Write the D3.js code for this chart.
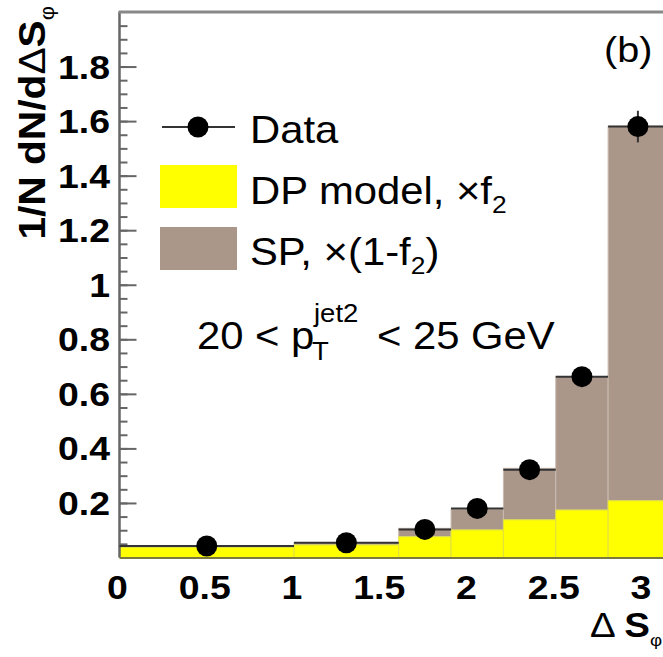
<!DOCTYPE html>
<html>
<head>
<meta charset="utf-8">
<script src="https://cdn.jsdelivr.net/npm/d3@7"></script>
<style>
  html, body { margin: 0; padding: 0; background: #fff; }
  svg { display: block; font-family: "Liberation Sans", Arial, Helvetica, sans-serif; }
</style>
</head>
<body>
<svg id="chart" width="663" height="657"></svg>
<script>
    // bin edges in ΔS_φ (last bin ends at π)
    const binEdges = [0, 1, 1.6, 1.9, 2.2, 2.5, 2.8, Math.PI];
    // stacked model: DP (yellow, ×f2) at the bottom, SP (brown, ×(1-f2)) on top
    const dpValues = [0.037, 0.046, 0.076, 0.101, 0.138, 0.174, 0.208];
    const spValues = [0.005, 0.008, 0.031, 0.076, 0.189, 0.489, 1.373];
    // data points at bin centres
    const dataValues = [0.042, 0.054, 0.103, 0.180, 0.322, 0.663, 1.580];
    const dataErrors = [0.004, 0.004, 0.006, 0.010, 0.015, 0.025, 0.058];
    const xTicks = [0, 0.5, 1, 1.5, 2, 2.5, 3];
    const yTicks = [0.2, 0.4, 0.6, 0.8, 1, 1.2, 1.4, 1.6, 1.8];

    const YELLOW = '#ffff00';
    const BROWN = '#ab978a';
    const AXIS = '#666';
    const WIDE = 1.1;   // the original font runs wider than Helvetica

    const svg = d3.select('#chart');

    const x = d3.scaleLinear().domain([0, Math.PI]).range([119.5, 119.5 + Math.PI * 174.5]);
    const y = d3.scaleLinear().domain([0, 2]).range([557.5, 12]);

    // text placed at (tx,ty), stretched along its own direction
    function label(parent, tx, ty, size, rot = 0) {
      return parent.append('text')
        .attr('transform', `translate(${tx},${ty}) rotate(${rot}) scale(${WIDE},1)`)
        .attr('font-size', size);
    }

    const bins = dpValues.map((dp, i) => ({
      x0: binEdges[i], x1: binEdges[i + 1],
      dp, sp: spValues[i],
      data: dataValues[i], err: dataErrors[i]
    }));

    // x tick marks (drawn first, the histogram covers them like in ROOT)
    svg.append('g')
      .attr('transform', `translate(0,${y(0)})`)
      .call(d3.axisBottom(x).tickValues(d3.range(0, 3.15, 0.1)).tickSize(-8).tickFormat(''))
      .call(g => g.select('.domain').remove())
      .selectAll('line').attr('stroke', AXIS);

    // SP on top of DP
    svg.append('g').selectAll('rect').data(bins).join('rect')
      .attr('x', d => x(d.x0))
      .attr('width', d => x(d.x1) - x(d.x0))
      .attr('y', d => y(d.dp + d.sp))
      .attr('height', d => y(d.dp) - y(d.dp + d.sp))
      .attr('fill', BROWN)
      .attr('stroke', '#c9bbb1')
      .attr('stroke-width', 1);

    svg.append('g').selectAll('rect').data(bins).join('rect')
      .attr('x', d => x(d.x0))
      .attr('width', d => x(d.x1) - x(d.x0))
      .attr('y', d => y(d.dp))
      .attr('height', d => y(0) - y(d.dp))
      .attr('fill', YELLOW)
      .attr('stroke', '#e0e040')
      .attr('stroke-width', 1);

    // frame: left axis, bottom axis, top line
    const yAxis = svg.append('g')
      .attr('transform', `translate(${x(0)},0)`);
    yAxis.append('g')
      .call(d3.axisRight(y).tickValues(d3.range(0.05, 2, 0.05)).tickSize(8).tickFormat(''))
      .call(g => g.select('.domain').remove())
      .selectAll('line').attr('stroke', AXIS).attr('stroke-width', 2);
    yAxis.append('g')
      .call(d3.axisRight(y).tickValues(yTicks).tickSize(17).tickFormat(''))
      .call(g => g.select('.domain').remove())
      .selectAll('line').attr('stroke', AXIS).attr('stroke-width', 2);

    svg.append('line')
      .attr('x1', x(0)).attr('x2', x(0))
      .attr('y1', y(0)).attr('y2', y(2))
      .attr('stroke', AXIS).attr('stroke-width', 2.5);
    svg.append('line')
      .attr('x1', x(0) - 1).attr('x2', 663)
      .attr('y1', y(2)).attr('y2', y(2))
      .attr('stroke', '#888').attr('stroke-width', 3);
    svg.append('line')
      .attr('x1', x(0)).attr('x2', 663)
      .attr('y1', y(0) + 0.5).attr('y2', y(0) + 0.5)
      .attr('stroke', '#7a7a40').attr('stroke-width', 2);

    // tick labels
    const fmt = d3.format('~g');
    yTicks.forEach(t => {
      label(svg, 110, y(t) + 12, 34)
        .attr('text-anchor', 'end')
        .attr('font-weight', 'bold')
        .text(fmt(t));
    });
    xTicks.forEach(t => {
      label(svg, x(t) - 2, 599, 34)
        .attr('text-anchor', 'middle')
        .attr('font-weight', 'bold')
        .text(fmt(t));
    });

    // data: horizontal bars over the bin, vertical error bars, markers
    const dataG = svg.append('g');
    dataG.selectAll('line.xerr').data(bins).join('line')
      .attr('class', 'xerr')
      .attr('x1', d => x(d.x0)).attr('x2', d => x(d.x1))
      .attr('y1', d => y(d.data)).attr('y2', d => y(d.data))
      .attr('stroke', '#333').attr('stroke-width', 2);
    dataG.selectAll('line.yerr').data(bins).join('line')
      .attr('class', 'yerr')
      .attr('x1', d => x((d.x0 + d.x1) / 2)).attr('x2', d => x((d.x0 + d.x1) / 2))
      .attr('y1', d => y(d.data - d.err)).attr('y2', d => y(d.data + d.err))
      .attr('stroke', '#333').attr('stroke-width', 2);
    dataG.selectAll('circle').data(bins).join('circle')
      .attr('cx', d => x((d.x0 + d.x1) / 2))
      .attr('cy', d => y(d.data))
      .attr('r', 10.5)
      .attr('fill', '#000');

    // axis titles
    const yTitle = label(svg, 45, 6, 37, -90)
      .attr('text-anchor', 'end')
      .attr('font-weight', 'bold');
    yTitle.append('tspan').text('1/N dN/d');
    yTitle.append('tspan').attr('font-weight', 'normal').text('Δ');
    yTitle.append('tspan').text('S');
    yTitle.append('tspan').attr('font-size', 20).attr('dy', 9).attr('font-weight', 'normal').text('φ');

    const xTitle = label(svg, 590, 637, 35);
    xTitle.append('tspan').text('Δ ');
    xTitle.append('tspan').attr('font-weight', 'bold').text('S');
    xTitle.append('tspan').attr('font-size', 17).attr('dy', 9).text('φ');

    label(svg, 604, 62, 36).text('(b)');

    // legend
    const legend = svg.append('g');
    legend.append('line')
      .attr('x1', 162).attr('x2', 235).attr('y1', 127).attr('y2', 127)
      .attr('stroke', '#333').attr('stroke-width', 2);
    legend.append('circle').attr('cx', 198).attr('cy', 127).attr('r', 10.5).attr('fill', '#000');
    legend.append('rect').attr('x', 160).attr('y', 165).attr('width', 77).attr('height', 43).attr('fill', YELLOW);
    legend.append('rect').attr('x', 160).attr('y', 227).attr('width', 77).attr('height', 43).attr('fill', BROWN);

    label(legend, 250, 143, 38).text('Data');

    const dpText = label(legend, 250, 204, 38);
    dpText.append('tspan').text('DP model, ×f');
    dpText.append('tspan').attr('font-size', 24).attr('dy', 9).text('2');

    const spText = label(legend, 250, 265, 38);
    spText.append('tspan').text('SP, ×(1-f');
    spText.append('tspan').attr('font-size', 24).attr('dy', 9).text('2');
    spText.append('tspan').attr('dy', -9).text(')');

    // pT range label
    label(svg, 197, 349, 38).text('20 < p');
    label(svg, 312, 360, 25).text('T');
    label(svg, 314, 322, 25).text('jet2');
    label(svg, 377, 349, 38).text('< 25 GeV');
</script>
</body>
</html>
